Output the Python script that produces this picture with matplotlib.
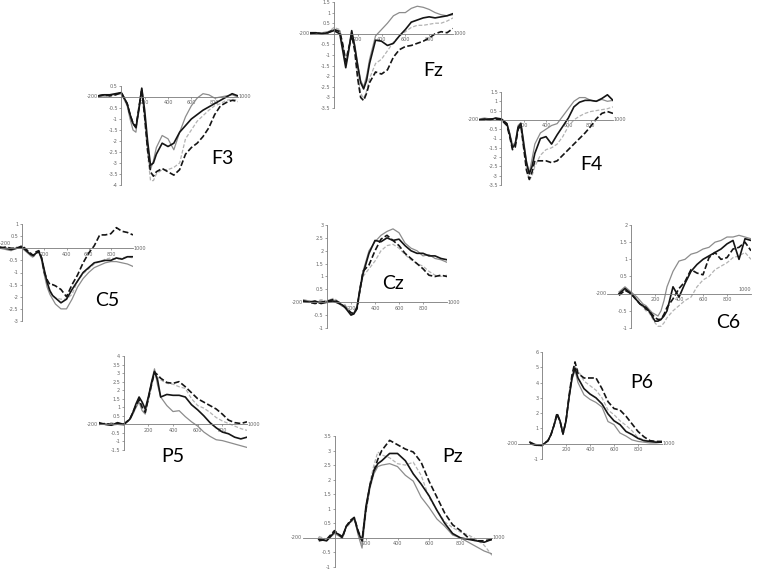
import numpy as np
import matplotlib.pyplot as plt

nan = np.nan

# time points (ms)
T = [-200, -150, -100, -50, 0, 50, 75, 100, 125, 150, 175, 200, 225, 250, 275, 300,
     350, 400, 450, 500, 550, 600, 650, 700, 750, 800, 850, 900, 950, 1000]

# bs = black solid, bd = black dashed, gs = grey solid, gd = grey dashed
fz_bs = [0.05, 0.05, 0.0, 0.05, 0.15, 0.0, -0.8, -1.6, -0.8, 0.15, -0.6, -1.5, -2.3, -2.6, -2.2, -1.4,
         -0.3, -0.35, -0.55, -0.45, -0.1, 0.2, 0.55, 0.65, 0.75, 0.8, 0.75, 0.8, 0.85, 0.95]
fz_gs = [0.05, 0.0, 0.05, 0.1, 0.2, 0.15, -0.6, -1.5, -0.7, 0.1, -0.5, -1.4, -2.2, -2.5, -2.0, -1.2,
         -0.1, 0.2, 0.5, 0.85, 1.0, 1.0, 1.2, 1.3, 1.25, 1.15, 1.0, 0.9, 0.85, 0.9]
fz_gd = [0.0, 0.05, 0.0, 0.05, 0.3, 0.2, -0.5, -1.2, -0.6, 0.05, -0.7, -1.9, -2.8, -3.05, -2.7, -2.1,
         -1.4, -1.2, -0.8, -0.4, -0.1, 0.1, 0.3, 0.4, 0.4, 0.45, 0.5, 0.5, 0.6, 0.75]
fz_bd = [0.0, 0.05, 0.0, 0.05, 0.2, 0.1, -0.5, -1.3, -0.7, -0.05, -0.8, -2.1, -3.0, -3.15, -2.8, -2.3,
         -1.8, -1.9, -1.7, -1.1, -0.75, -0.6, -0.55, -0.45, -0.35, -0.2, 0.0, 0.1, 0.05, 0.25]

f3_bs = [0.05, 0.1, 0.1, 0.15, 0.2, -0.3, -0.8, -1.2, -1.4, -0.6, 0.4, -0.6, -2.0, -3.1, -3.0, -2.6,
         -2.1, -2.25, -2.1, -1.6, -1.3, -1.0, -0.8, -0.6, -0.45, -0.3, -0.15, 0.0, 0.15, 0.05]
f3_gs = [0.0, 0.05, 0.1, 0.1, 0.15, -0.4, -1.0, -1.5, -1.6, -0.5, 0.4, -0.9, -2.3, -3.3, -2.9, -2.3,
         -1.75, -1.9, -2.4, -1.6, -0.9, -0.4, -0.05, 0.15, 0.1, -0.05, 0.0, 0.05, 0.1, 0.0]
f3_gd = [0.05, 0.0, 0.05, 0.1, 0.15, -0.3, -0.8, -1.2, -1.4, -0.5, 0.3, -1.0, -2.6, -3.8, -3.8, -3.5,
         -3.3, -3.3, -3.2, -3.0, -1.9, -1.5, -1.1, -0.85, -0.6, -0.4, -0.3, -0.15, -0.1, -0.15]
f3_bd = [0.05, 0.1, 0.05, 0.1, 0.2, -0.3, -0.8, -1.2, -1.35, -0.5, 0.35, -0.9, -2.4, -3.4, -3.6, -3.4,
         -3.25, -3.4, -3.55, -3.3, -2.6, -2.3, -2.1, -1.8, -1.4, -0.8, -0.4, -0.25, -0.15, -0.2]

f4_bs = [0.0, 0.05, 0.0, 0.1, 0.05, -0.2, -0.8, -1.5, -1.3, -0.4, -0.2, -1.3, -2.3, -2.9, -2.5, -1.8,
         -1.0, -0.9, -1.3, -0.8, -0.35, 0.1, 0.7, 0.95, 1.05, 1.05, 1.0, 1.15, 1.35, 1.05]
f4_gs = [0.05, 0.1, 0.05, 0.1, 0.0, -0.2, -0.7, -1.4, -1.2, -0.3, -0.15, -1.1, -2.2, -2.85, -2.1, -1.3,
         -0.7, -0.5, -0.3, -0.2, 0.2, 0.6, 1.0, 1.2, 1.2, 1.05, 1.0, 1.1, 1.0, 1.05]
f4_gd = [0.0, 0.05, 0.0, 0.05, 0.05, -0.2, -0.7, -1.3, -1.3, -0.5, -0.3, -1.4, -2.6, -3.25, -3.0, -2.5,
         -1.9, -1.6, -1.5, -1.3, -0.9, -0.35, 0.0, 0.2, 0.35, 0.45, 0.5, 0.55, 0.6, 0.7]
f4_bd = [0.0, 0.0, 0.05, 0.05, 0.0, -0.3, -0.9, -1.6, -1.45, -0.5, -0.3, -1.5, -2.7, -3.2, -2.8, -2.2,
         -2.2, -2.2, -2.3, -2.2, -1.9, -1.6, -1.3, -1.0, -0.7, -0.35, 0.05, 0.35, 0.45, 0.35]

c5_bs = [0.05, 0.0, -0.05, 0.0, 0.05, -0.15, -0.25, -0.3, -0.2, -0.15, -0.4, -0.9, -1.4, -1.75, -1.95, -2.05,
         -2.25, -2.1, -1.7, -1.35, -1.0, -0.8, -0.6, -0.55, -0.5, -0.5, -0.4, -0.45, -0.35, -0.35]
c5_bd = [0.0, 0.05, 0.0, 0.0, 0.1, -0.1, -0.2, -0.3, -0.15, -0.1, -0.4, -1.0, -1.3, -1.5, -1.5, -1.55,
         -1.7, -2.0, -1.5, -1.1, -0.6, -0.2, 0.1, 0.55, 0.55, 0.6, 0.85, 0.7, 0.65, 0.55]
c5_gs = [0.0, -0.05, -0.1, 0.0, 0.0, -0.2, -0.3, -0.35, -0.2, -0.15, -0.5, -1.1, -1.6, -1.9, -2.1, -2.3,
         -2.5, -2.5, -2.1, -1.6, -1.25, -1.0, -0.8, -0.7, -0.6, -0.55, -0.55, -0.6, -0.65, -0.75]
c5_gd = [0.05, 0.0, -0.05, 0.05, 0.0, -0.15, -0.3, -0.4, -0.2, -0.1, -0.45, -1.05, -1.5, -1.8, -1.95, -2.05,
         -2.1, -2.1, -1.9, -1.35, -1.05, -0.85, -0.65, -0.55, -0.45, -0.4, -0.45, -0.4, -0.35, -0.4]

cz_bs = [0.05, 0.0, 0.05, -0.05, 0.0, 0.05, 0.0, -0.05, -0.1, -0.2, -0.35, -0.5, -0.45, -0.2, 0.5, 1.1,
         1.9, 2.4, 2.35, 2.5, 2.4, 2.45, 2.2, 2.0, 1.9, 1.9, 1.8, 1.8, 1.7, 1.65]
cz_gs = [0.1, 0.05, 0.0, 0.05, 0.0, 0.1, 0.05, -0.05, -0.15, -0.1, -0.3, -0.45, -0.4, -0.15, 0.6, 1.2,
         2.0, 2.35, 2.6, 2.75, 2.85, 2.7, 2.3, 2.1, 2.0, 1.8, 1.85, 1.7, 1.65, 1.55]
cz_bd = [0.05, 0.0, -0.05, 0.0, 0.05, 0.1, 0.05, 0.0, -0.1, -0.2, -0.3, -0.4, -0.45, -0.25, 0.5, 1.2,
         1.45, 2.0, 2.45, 2.6, 2.4, 2.2, 1.9, 1.7, 1.5, 1.3, 1.05, 1.0, 1.05, 1.0]
cz_gd = [0.0, 0.05, 0.0, 0.1, 0.05, 0.15, 0.1, 0.0, -0.1, -0.15, -0.25, -0.4, -0.4, -0.3, 0.4, 1.0,
         1.3, 1.6, 2.0, 2.2, 2.25, 2.1, 1.85, 1.65, 1.5, 1.4, 1.2, 1.05, 1.0, 1.05]

c6_bs = [nan, nan, 0.0, 0.15, 0.0, -0.2, -0.3, -0.35, -0.45, -0.5, -0.65, -0.8, -0.8, -0.75, -0.65, -0.5,
         0.2, -0.1, 0.3, 0.65, 0.85, 1.0, 1.1, 1.2, 1.3, 1.45, 1.55, 1.0, 1.6, 1.55]
c6_gs = [nan, nan, 0.05, 0.2, 0.05, -0.1, -0.2, -0.3, -0.35, -0.45, -0.55, -0.6, -0.65, -0.5, -0.2, 0.2,
         0.65, 0.95, 1.0, 1.15, 1.2, 1.3, 1.35, 1.5, 1.55, 1.65, 1.65, 1.7, 1.65, 1.6]
c6_bd = [nan, nan, -0.05, 0.1, 0.0, -0.2, -0.3, -0.35, -0.4, -0.5, -0.6, -0.7, -0.75, -0.75, -0.6, -0.4,
         -0.15, 0.15, 0.35, 0.7, 0.6, 0.55, 1.05, 1.2, 1.0, 1.05, 1.3, 1.35, 1.5, 1.25]
c6_gd = [nan, nan, 0.05, 0.1, 0.05, -0.15, -0.3, -0.4, -0.5, -0.55, -0.7, -0.85, -0.95, -0.95, -0.85, -0.7,
         -0.5, -0.35, -0.2, -0.1, 0.2, 0.4, 0.5, 0.7, 0.8, 0.9, 1.05, 1.1, 1.2, 1.0]

p5_bs = [0.1, 0.0, -0.05, 0.1, 0.0, 0.3, 0.7, 1.2, 1.6, 1.3, 0.9, 1.6, 2.4, 3.1, 2.6, 1.6,
         1.75, 1.7, 1.7, 1.6, 1.15, 0.85, 0.5, 0.1, -0.2, -0.45, -0.55, -0.75, -0.85, -0.75]
p5_gs = [0.05, 0.0, -0.05, 0.0, -0.05, 0.3, 0.6, 1.0, 1.3, 0.8, 0.6, 1.5, 2.5, 3.25, 2.3, 1.6,
         1.1, 0.75, 0.8, 0.45, 0.15, -0.1, -0.45, -0.7, -0.9, -0.95, -1.05, -1.15, -1.25, -1.35]
p5_bd = [0.0, 0.05, 0.0, 0.05, 0.0, 0.3, 0.7, 1.1, 1.45, 1.0, 0.7, 1.5, 2.3, 3.05, 2.9, 2.7,
         2.45, 2.4, 2.5, 2.2, 1.85, 1.5, 1.3, 1.1, 0.9, 0.6, 0.25, 0.1, 0.05, 0.15]
p5_gd = [0.05, 0.0, 0.1, 0.0, 0.05, 0.25, 0.6, 1.0, 1.35, 1.1, 0.8, 1.4, 2.2, 3.0, 2.75, 2.6,
         2.4, 2.35, 2.2, 2.1, 1.5, 1.1, 0.95, 0.7, 0.4, 0.2, 0.05, -0.1, -0.25, -0.35]

pz_bs = [nan, nan, -0.05, -0.1, 0.2, 0.05, 0.4, 0.55, 0.7, 0.2, -0.1, 1.1, 1.8, 2.3, 2.55, 2.65,
         2.9, 2.9, 2.65, 2.2, 1.85, 1.45, 0.95, 0.5, 0.15, 0.0, -0.05, -0.1, -0.15, -0.05]
pz_gs = [nan, nan, 0.0, -0.1, 0.15, 0.0, 0.4, 0.55, 0.7, 0.1, -0.35, 0.9, 1.7, 2.2, 2.45, 2.5,
         2.55, 2.45, 2.15, 1.95, 1.4, 1.05, 0.65, 0.4, 0.1, 0.0, -0.15, -0.3, -0.45, -0.55]
pz_bd = [nan, nan, -0.1, -0.05, 0.25, 0.0, 0.4, 0.6, 0.7, 0.25, -0.1, 1.0, 1.8, 2.3, 2.7, 3.0,
         3.35, 3.2, 3.05, 2.95, 2.6, 1.95, 1.4, 0.85, 0.45, 0.25, 0.0, -0.1, -0.1, -0.05]
pz_gd = [nan, nan, 0.05, -0.05, 0.2, 0.05, 0.35, 0.5, 0.65, 0.15, -0.2, 1.0, 1.9, 2.5, 2.95, 2.85,
         2.75, 2.55, 2.5, 2.6, 2.15, 1.4, 0.95, 0.55, 0.35, 0.2, 0.1, -0.05, -0.25, -0.6]

p6_bs = [nan, nan, 0.1, -0.1, -0.1, 0.2, 0.6, 1.2, 1.9, 1.5, 0.65, 1.5, 3.0, 4.3, 4.95, 4.3,
         3.6, 3.25, 3.0, 2.6, 1.95, 1.5, 1.25, 0.8, 0.6, 0.35, 0.2, 0.15, 0.1, 0.1]
p6_gs = [nan, nan, 0.05, -0.05, -0.15, 0.2, 0.6, 1.2, 1.9, 1.5, 0.6, 1.5, 3.0, 4.2, 4.8, 4.0,
         3.2, 2.9, 2.7, 2.4, 1.45, 1.25, 0.7, 0.5, 0.25, 0.15, 0.1, 0.05, 0.05, 0.1]
p6_bd = [nan, nan, 0.0, -0.1, -0.1, 0.2, 0.6, 1.2, 2.0, 1.5, 0.65, 1.5, 3.1, 4.5, 5.35, 4.6,
         4.3, 4.3, 4.3, 3.6, 2.75, 2.3, 2.2, 1.8, 1.3, 0.8, 0.45, 0.2, 0.15, 0.15]
p6_gd = [nan, nan, 0.1, -0.05, -0.1, 0.2, 0.6, 1.2, 1.9, 1.4, 0.6, 1.4, 3.0, 4.4, 5.1, 4.8,
         4.1, 3.8, 3.5, 3.0, 2.2, 1.9, 1.5, 1.2, 0.85, 0.4, 0.25, 0.15, 0.15, 0.1]

W, H = 759, 569
fig = plt.figure(figsize=(W / 100, H / 100), dpi=100)
fig.patch.set_facecolor('white')

# name, (gd, gs, bd, bs), (ymin, ymax, step), pixel box (x at -200, x at 1000, y top, y bottom), label centre
panels = [
    ("Fz", (fz_gd, fz_gs, fz_bd, fz_bs), (-3.5, 1.5, 0.5), (310, 453, 2, 108), (433, 71)),
    ("F3", (f3_gd, f3_gs, f3_bd, f3_bs), (-4, 0.5, 0.5), (98, 238, 86, 185), (222, 158)),
    ("F4", (f4_gd, f4_gs, f4_bd, f4_bs), (-3.5, 1.5, 0.5), (479, 613, 92, 185), (591, 165)),
    ("C5", (c5_gd, c5_gs, c5_bd, c5_bs), (-3, 1, 0.5), (0, 133, 224, 321), (107, 300)),
    ("Cz", (cz_gd, cz_gs, cz_bd, cz_bs), (-1, 3, 0.5), (303, 447, 225, 328), (393, 283)),
    ("C6", (c6_gd, c6_gs, c6_bd, c6_bs), (-1, 2, 0.5), (607, 751, 225, 328), (728, 322)),
    ("P5", (p5_gd, p5_gs, p5_bd, p5_bs), (-1.5, 4, 0.5), (99, 247, 356, 450), (173, 457)),
    ("Pz", (pz_gd, pz_gs, pz_bd, pz_bs), (-1, 3.5, 0.5), (303, 492, 436, 567), (453, 457)),
    ("P6", (p6_gd, p6_gs, p6_bd, p6_bs), (-1, 6, 1), (518, 662, 352, 459), (642, 383)),
]

axis_col = '#7a7a7a'
lab_col = '#666666'

for name, series, (ylo, yhi, ystep), (x0, x1, ytop, ybot), (lx, ly) in panels:
    ax = fig.add_axes([x0 / W, 1 - ybot / H, (x1 - x0) / W, (ybot - ytop) / H])
    ax.patch.set_alpha(0)
    gd, gs, bd, bs = [np.array(s, dtype=float) for s in series]
    ax.plot(T, gd, color='#b3b3b3', lw=0.9, ls=(0, (3, 1.5)))
    ax.plot(T, gs, color='#8c8c8c', lw=0.9)
    ax.plot(T, bd, color='#151515', lw=1.2, ls=(0, (3.5, 1.5)))
    ax.plot(T, bs, color='#151515', lw=1.2)
    ax.set_xlim(-200, 1000)
    ax.set_ylim(ylo, yhi)

    for s in ['top', 'right']:
        ax.spines[s].set_visible(False)
    ax.spines['left'].set_position(('data', 0))
    ax.spines['bottom'].set_position(('data', 0))
    for s in ['left', 'bottom']:
        ax.spines[s].set_color(axis_col)
        ax.spines[s].set_linewidth(0.6)

    yt = np.round(np.arange(ylo, yhi + ystep / 2, ystep), 2)
    ax.set_yticks(yt)
    ax.set_yticklabels(['' if v == 0 else f"{v:g}" for v in yt])
    ax.set_xticks([200, 400, 600, 800])
    ax.set_xticklabels(['200', '400', '600', '800'])
    ax.tick_params(length=1.5, width=0.5, color=axis_col, labelsize=3.5,
                   labelcolor=lab_col, pad=1)

    # end labels sit on the axis line; keep them inside the figure at the edges
    if x0 < 10:
        ax.text(-200, 0.02 * (yhi - ylo), '-200', fontsize=3.5, color=lab_col, ha='left', va='bottom')
    else:
        ax.text(-205, 0, '-200', fontsize=3.5, color=lab_col, ha='right', va='center')
    if x1 > W - 15:
        ax.text(1000, 0.02 * (yhi - ylo), '1000', fontsize=3.5, color=lab_col, ha='right', va='bottom')
    else:
        ax.text(1005, 0, '1000', fontsize=3.5, color=lab_col, ha='left', va='center')

    fig.text(lx / W, 1 - ly / H, name, fontsize=14, ha='center', va='center',
             family=['Lato', 'DejaVu Sans'])

fig.savefig('out.png', dpi=100, facecolor='white')
